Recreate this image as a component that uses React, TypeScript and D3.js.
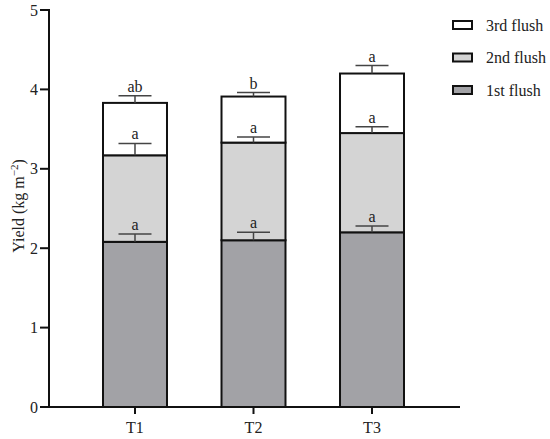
import React from "react";
import * as d3 from "d3";

const categories = ["T1", "T2", "T3"];
const seriesNames = ["1st flush", "2nd flush", "3rd flush"];
const flush1 = [2.08, 2.1, 2.2];
const flush2 = [1.09, 1.23, 1.25];
const flush3 = [0.66, 0.58, 0.75];
const err1 = [0.1, 0.1, 0.08];
const err2 = [0.15, 0.07, 0.08];
const err3 = [0.09, 0.05, 0.1];
const letters1 = ["a", "a", "a"];
const letters2 = ["a", "a", "a"];
const letters3 = ["ab", "b", "a"];
const yTicks = [0, 1, 2, 3, 4, 5];
const colors = ["#a2a2a6", "#d4d4d4", "#ffffff"];

export default function App() {
  const W = 550, H = 439;
  const x0 = 49, x1 = 460;
  const y = d3.scaleLinear().domain([0, 5]).range([407, 10]);
  const x = d3.scaleBand().domain(categories).range([103, 404]).paddingInner(0.46).paddingOuter(0);
  const values = [flush1, flush2, flush3];
  const errs = [err1, err2, err3];
  const letters = [letters1, letters2, letters3];
  const font = "'Liberation Serif', 'Times New Roman', serif";
  const bw = x.bandwidth();
  const capW = 33;

  const segs: any[] = [];
  categories.forEach((c, i) => {
    let base = 0;
    values.forEach((vals, s) => {
      const top = base + vals[i];
      segs.push({ c, s, base, top, err: errs[s][i], letter: letters[s][i] });
      base = top;
    });
  });

  return (
    <svg width={W} height={H} style={{ position: "absolute", left: 0, top: 0 }} fontFamily={font}>
      {segs.map((d, k) => (
        <rect key={"r" + k} x={x(d.c)} y={y(d.top)} width={bw} height={y(d.base) - y(d.top)}
          fill={colors[d.s]} stroke="#111" strokeWidth={2} />
      ))}
      {segs.map((d, k) => {
        const cx = (x(d.c) as number) + bw / 2;
        const yt = y(d.top);
        const ye = y(d.top + d.err);
        return (
          <g key={"e" + k}>
            <line x1={cx} x2={cx} y1={yt} y2={ye} stroke="#444" strokeWidth={1.5} />
            <line x1={cx - capW / 2} x2={cx + capW / 2} y1={ye} y2={ye} stroke="#444" strokeWidth={1.5} />
            <text x={cx} y={ye - 4} textAnchor="middle" fontSize={16} fill="#222">{d.letter}</text>
          </g>
        );
      })}
      <line x1={x0} x2={x0} y1={y(5) - 1} y2={y(0) + 1} stroke="#111" strokeWidth={2} />
      <line x1={x0 - 1} x2={x1} y1={y(0)} y2={y(0)} stroke="#111" strokeWidth={2} />
      {yTicks.map((t) => (
        <g key={"t" + t}>
          <line x1={x0 - 9} x2={x0} y1={y(t)} y2={y(t)} stroke="#111" strokeWidth={2} />
          <text x={x0 - 11} y={y(t)} dy="0.35em" textAnchor="end" fontSize={16} fill="#222">{t}</text>
        </g>
      ))}
      {categories.map((c) => {
        const cx = (x(c) as number) + bw / 2;
        return (
          <g key={"x" + c}>
            <line x1={cx} x2={cx} y1={y(0)} y2={y(0) + 7} stroke="#111" strokeWidth={2} />
            <text x={cx} y={433} textAnchor="middle" fontSize={16} fill="#222">{c}</text>
          </g>
        );
      })}
      <text transform="translate(24,206) rotate(-90)" textAnchor="middle" fontSize={16} fill="#222">
        Yield (kg m<tspan dy="-6" fontSize={11}>−2</tspan><tspan dy="6">)</tspan>
      </text>
      {[2, 1, 0].map((s, i) => (
        <g key={"l" + s}>
          <rect x={453} y={21 + i * 32.5} width={19} height={8} fill={colors[s]} stroke="#111" strokeWidth={2} />
          <text x={486} y={25 + i * 32.5} dy="0.35em" fontSize={16} fill="#222">{seriesNames[s]}</text>
        </g>
      ))}
    </svg>
  );
}
